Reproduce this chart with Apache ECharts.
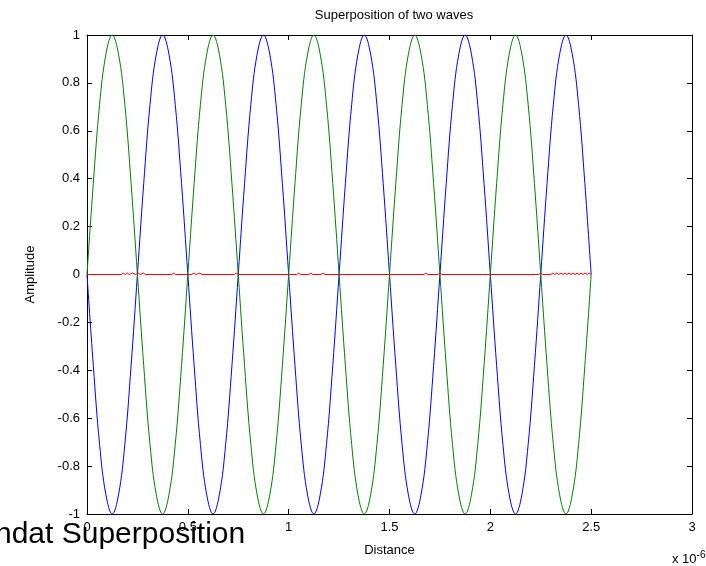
<!DOCTYPE html>
<html>
<head>
<meta charset="utf-8">
<script src="https://cdn.jsdelivr.net/npm/echarts@6/dist/echarts.min.js"></script>
<style>
  html, body { margin: 0; padding: 0; background: #fff; }
  #chart { width: 706px; height: 566px; }
</style>
</head>
<body>
<div id="chart"></div>
<script>
// distance, units of 1e-6
const xVals = [
    0, 0.03125, 0.0625, 0.09375, 0.125, 0.15625, 0.1875, 0.21875, 0.25, 0.28125, 0.3125, 0.34375, 0.375, 0.40625, 0.4375, 0.46875,
    0.5, 0.53125, 0.5625, 0.59375, 0.625, 0.65625, 0.6875, 0.71875, 0.75, 0.78125, 0.8125, 0.84375, 0.875, 0.90625, 0.9375, 0.96875,
    1, 1.03125, 1.0625, 1.09375, 1.125, 1.15625, 1.1875, 1.21875, 1.25, 1.28125, 1.3125, 1.34375, 1.375, 1.40625, 1.4375, 1.46875,
    1.5, 1.53125, 1.5625, 1.59375, 1.625, 1.65625, 1.6875, 1.71875, 1.75, 1.78125, 1.8125, 1.84375, 1.875, 1.90625, 1.9375, 1.96875,
    2, 2.03125, 2.0625, 2.09375, 2.125, 2.15625, 2.1875, 2.21875, 2.25, 2.28125, 2.3125, 2.34375, 2.375, 2.40625, 2.4375, 2.46875,
    2.5
];
const greenWave = [
    0, 0.38, 0.71, 0.92, 1, 0.92, 0.71, 0.38, 0, -0.38, -0.71, -0.92, -1, -0.92, -0.71, -0.38,
    0, 0.38, 0.71, 0.92, 1, 0.92, 0.71, 0.38, 0, -0.38, -0.71, -0.92, -1, -0.92, -0.71, -0.38,
    0, 0.38, 0.71, 0.92, 1, 0.92, 0.71, 0.38, 0, -0.38, -0.71, -0.92, -1, -0.92, -0.71, -0.38,
    0, 0.38, 0.71, 0.92, 1, 0.92, 0.71, 0.38, 0, -0.38, -0.71, -0.92, -1, -0.92, -0.71, -0.38,
    0, 0.38, 0.71, 0.92, 1, 0.92, 0.71, 0.38, 0, -0.38, -0.71, -0.92, -1, -0.92, -0.71, -0.38,
    0
];
const blueWave = [
    0, -0.38, -0.71, -0.92, -1, -0.92, -0.71, -0.38, 0, 0.38, 0.71, 0.92, 1, 0.92, 0.71, 0.38,
    0, -0.38, -0.71, -0.92, -1, -0.92, -0.71, -0.38, 0, 0.38, 0.71, 0.92, 1, 0.92, 0.71, 0.38,
    0, -0.38, -0.71, -0.92, -1, -0.92, -0.71, -0.38, 0, 0.38, 0.71, 0.92, 1, 0.92, 0.71, 0.38,
    0, -0.38, -0.71, -0.92, -1, -0.92, -0.71, -0.38, 0, 0.38, 0.71, 0.92, 1, 0.92, 0.71, 0.38,
    0, -0.38, -0.71, -0.92, -1, -0.92, -0.71, -0.38, 0, 0.38, 0.71, 0.92, 1, 0.92, 0.71, 0.38,
    0
];
// sum of the two waves: flat with tiny wiggles
const sumX = [
    0, 0.02, 0.027, 0.034, 0.042, 0.05,
    0.17, 0.18, 0.19, 0.2, 0.21, 0.225, 0.24, 0.255, 0.265, 0.28, 0.29,
    0.42, 0.43, 0.44, 0.52, 0.53, 0.54, 0.56, 0.57, 0.73, 0.74, 0.75,
    1.04, 1.05, 1.06, 1.1, 1.11, 1.12, 1.16, 1.17, 1.18,
    1.67, 1.68, 1.69, 1.74, 1.75, 1.76,
    2.24, 2.25, 2.26, 2.3, 2.31, 2.32, 2.33, 2.34, 2.35, 2.36, 2.37, 2.38, 2.39, 2.4,
    2.41, 2.42, 2.43, 2.44, 2.45, 2.46, 2.47, 2.48, 2.49, 2.5
];
const sumY = [
    0, 0, 0.006, 0, 0.006, 0,
    0, 0.006, 0, 0.006, 0, 0.006, 0, 0.006, 0, 0.006, 0,
    0, 0.006, 0, 0, 0.006, 0, 0.006, 0, 0, 0.006, 0,
    0, 0.006, 0, 0, 0.006, 0, 0, 0.006, 0,
    0, 0.006, 0, 0, 0.006, 0,
    0, 0.006, 0, 0, 0.006, 0, 0.006, 0, 0.006, 0, 0.006, 0, 0.006, 0,
    0.006, 0, 0.006, 0, 0.006, 0, 0.006, 0, 0.006, 0
];
const xTicks = [0, 0.5, 1, 1.5, 2, 2.5, 3];
const yTicks = [-1, -0.8, -0.6, -0.4, -0.2, 0, 0.2, 0.4, 0.6, 0.8, 1];

const font = 'Liberation Sans, Arial, sans-serif';
const chart = echarts.init(document.getElementById('chart'));

const pairs = (xs, ys) => xs.map((x, i) => [x, ys[i]]);
const lineSeries = (name, color, xs, ys, smooth) => ({
    name: name,
    type: 'line',
    data: pairs(xs, ys),
    showSymbol: false,
    smooth: smooth,
    animation: false,
    lineStyle: { color: color, width: 1 },
    itemStyle: { color: color }
});

const tickStyle = { inside: true, length: 5, lineStyle: { color: '#000', width: 1 } };
const lineStyleBlack = { show: true, onZero: false, lineStyle: { color: '#000', width: 1 } };

chart.setOption({
    backgroundColor: '#fff',
    animation: false,
    title: {
        text: 'Superposition of two waves',
        left: 389,
        top: 4,
        textAlign: 'center',
        textStyle: { fontFamily: font, fontSize: 13, fontWeight: 'normal', color: '#000' }
    },
    grid: { left: 87, right: 14, top: 35, bottom: 52 },
    xAxis: [{
        type: 'value',
        min: 0, max: 3, interval: 0.5,
        position: 'bottom',
        name: 'Distance',
        nameLocation: 'middle',
        nameGap: 30,
        nameTextStyle: { fontFamily: font, fontSize: 13, color: '#000' },
        axisLine: lineStyleBlack,
        axisTick: tickStyle,
        splitLine: { show: false },
        axisLabel: {
            fontFamily: font, fontSize: 13, color: '#000', margin: 7,
            formatter: v => xTicks.indexOf(v) > -1 ? String(v) : ''
        }
    }, {
        type: 'value',
        min: 0, max: 3, interval: 0.5,
        position: 'top',
        axisLine: lineStyleBlack,
        axisTick: tickStyle,
        splitLine: { show: false },
        axisLabel: { show: false }
    }],
    yAxis: [{
        type: 'value',
        min: -1, max: 1, interval: 0.2,
        position: 'left',
        name: 'Amplitude',
        nameLocation: 'middle',
        nameRotate: 90,
        nameGap: 50,
        nameTextStyle: { fontFamily: font, fontSize: 13, color: '#000' },
        axisLine: lineStyleBlack,
        axisTick: tickStyle,
        splitLine: { show: false },
        axisLabel: {
            fontFamily: font, fontSize: 13, color: '#000', margin: 7,
            formatter: v => {
                let t = yTicks.find(k => Math.abs(k - v) < 1e-9);
                return t === undefined ? '' : String(t);
            }
        }
    }, {
        type: 'value',
        min: -1, max: 1, interval: 0.2,
        position: 'right',
        axisLine: lineStyleBlack,
        axisTick: tickStyle,
        splitLine: { show: false },
        axisLabel: { show: false }
    }],
    series: [
        lineSeries('blue', '#0000ff', xVals, blueWave, 0.4),
        lineSeries('green', '#008000', xVals, greenWave, 0.4),
        lineSeries('sum', '#ff0000', sumX, sumY, false)
    ],
    graphic: [{
        type: 'text',
        left: 672, top: 550,
        style: {
            text: 'x 10{s|-6}',
            font: '13px ' + font,
            fill: '#000',
            rich: { s: { fontSize: 10, verticalAlign: 'top', padding: [0, 0, 8, 0], fontFamily: font } }
        }
    }, {
        type: 'text',
        left: -5, top: 520,
        z: 100,
        style: { text: 'ndat Superposition', font: '30px ' + font, fill: '#000' }
    }]
});
</script>
</body>
</html>
